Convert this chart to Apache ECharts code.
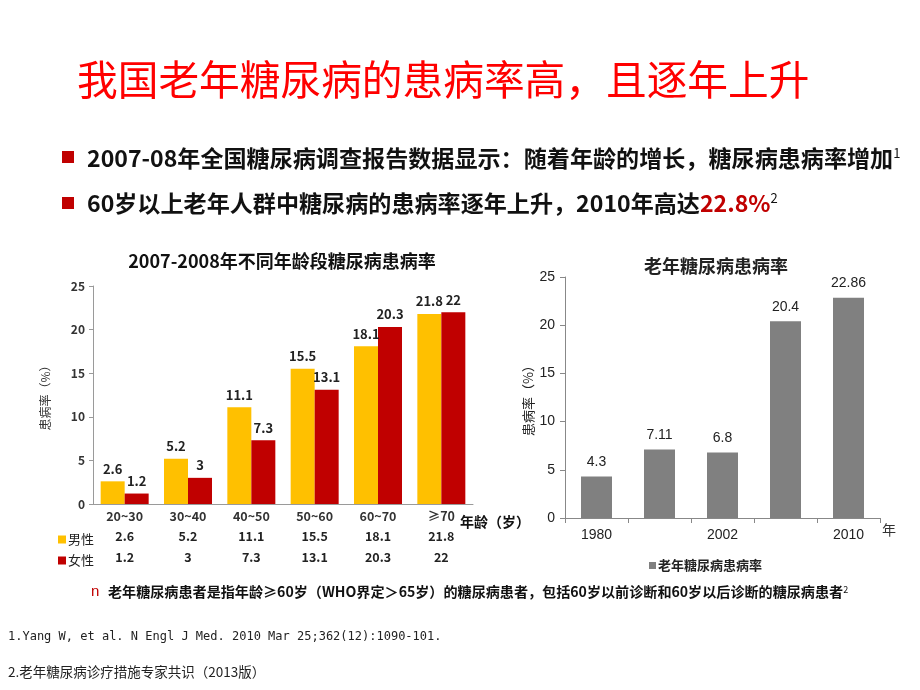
<!DOCTYPE html>
<html>
<head>
<meta charset="utf-8">
<script src="https://cdn.jsdelivr.net/npm/echarts@6/dist/echarts.min.js"></script>
<style>
html,body{margin:0;padding:0;background:#fff;}
#main{width:920px;height:690px;}
</style>
</head>
<body>
<div id="main"></div>
<script>
// ---- data ----
const ageGroups = ['20~30', '30~40', '40~50', '50~60', '60~70', '≥70'];
const maleRates = [2.6, 5.2, 11.1, 15.5, 18.1, 21.8];
const femaleRates = [1.2, 3, 7.3, 13.1, 20.3, 22];
const yearLabels = ['1980', '', '2002', '', '2010'];
const elderlyRates = [4.3, 7.11, 6.8, 20.4, 22.86];
const yMax = 25;
const yStep = 5;

const CJK = '"Noto Sans CJK SC", "Noto Sans", sans-serif';
const ARIAL = '"Liberation Sans", Arial, "Noto Sans CJK SC", sans-serif';

const chart = echarts.init(document.getElementById('main'), null, {renderer: 'canvas'});

const boldLbl = {fontSize: 12.5, fontWeight: 'bold', color: '#222', fontFamily: CJK};

const option = {
  backgroundColor: '#ffffff',
  animation: false,
  title: [
    {text: '2007-2008年不同年龄段糖尿病患病率', left: 277, top: 247, textAlign: 'center',
     textStyle: {fontSize: 18, fontWeight: 'bold', color: '#111', fontFamily: CJK}},
    {text: '老年糖尿病患病率', left: 711, top: 252, textAlign: 'center',
     textStyle: {fontSize: 18, fontWeight: 'bold', color: '#222', fontFamily: CJK}}
  ],
  legend: [
    {data: ['男性'], left: 53, top: 528, icon: 'rect', itemWidth: 8, itemHeight: 8, selectedMode: false,
     textStyle: {fontSize: 13, color: '#222', fontFamily: CJK, padding: [0, 0, 0, -3]}},
    {data: ['女性'], left: 53, top: 549, icon: 'rect', itemWidth: 8, itemHeight: 8, selectedMode: false,
     textStyle: {fontSize: 13, color: '#222', fontFamily: CJK, padding: [0, 0, 0, -3]}},
    {data: ['老年糖尿病患病率'], left: 644, top: 554, icon: 'rect', itemWidth: 7, itemHeight: 7, selectedMode: false,
     textStyle: {fontSize: 13, fontWeight: 'bold', color: '#222', fontFamily: CJK, padding: [0, 0, 0, -3]}}
  ],
  grid: [
    {left: 93, top: 286, width: 380, height: 218},
    {left: 565, top: 277, width: 315, height: 241}
  ],
  xAxis: [
    {gridIndex: 0, type: 'category', data: ageGroups,
     axisLine: {lineStyle: {color: '#9a9a9a', width: 1}}, axisTick: {show: false},
     axisLabel: Object.assign({margin: 6, interval: 0}, boldLbl, {color: '#333'})},
    {gridIndex: 0, type: 'category', data: maleRates.map(String), position: 'bottom', offset: 20,
     axisLine: {show: false}, axisTick: {show: false},
     axisLabel: Object.assign({margin: 6, interval: 0}, boldLbl)},
    {gridIndex: 0, type: 'category', data: femaleRates.map(String), position: 'bottom', offset: 41,
     axisLine: {show: false}, axisTick: {show: false},
     axisLabel: Object.assign({margin: 6, interval: 0}, boldLbl)},
    {gridIndex: 1, type: 'category', data: yearLabels,
     axisLine: {lineStyle: {color: '#888', width: 1}},
     axisTick: {show: true, interval: 0, length: 5, lineStyle: {color: '#888'}},
     axisLabel: {interval: 0, margin: 10, fontSize: 14, color: '#222', fontFamily: ARIAL}}
  ],
  yAxis: [
    {gridIndex: 0, type: 'value', min: 0, max: yMax, interval: yStep,
     splitLine: {show: false},
     axisLine: {show: true, lineStyle: {color: '#9a9a9a'}},
     axisTick: {show: true, length: 4, lineStyle: {color: '#9a9a9a'}},
     axisLabel: {margin: 8, fontSize: 12, fontWeight: 'bold', color: '#333', fontFamily: CJK},
     name: '患病率（%）', nameLocation: 'middle', nameGap: 42, nameRotate: 90,
     nameTextStyle: {fontSize: 12, color: '#333', fontFamily: CJK}},
    {gridIndex: 1, type: 'value', min: 0, max: yMax, interval: yStep,
     splitLine: {show: false},
     axisLine: {show: true, lineStyle: {color: '#888'}},
     axisTick: {show: true, length: 5, lineStyle: {color: '#888'}},
     axisLabel: {margin: 10, fontSize: 14, color: '#222', fontFamily: ARIAL},
     name: '患病率（%）', nameLocation: 'middle', nameGap: 30, nameRotate: 90,
     nameTextStyle: {fontSize: 13, color: '#222', fontFamily: CJK}}
  ],
  series: [
    {name: '男性', type: 'bar', xAxisIndex: 0, yAxisIndex: 0, data: maleRates,
     barWidth: 24, barGap: '0%', itemStyle: {color: '#FFC000'},
     label: {show: true, position: 'top', distance: 6, fontSize: 13, fontWeight: 'bold', color: '#222', fontFamily: CJK}},
    {name: '女性', type: 'bar', xAxisIndex: 0, yAxisIndex: 0, data: femaleRates,
     barWidth: 24, barGap: '0%', itemStyle: {color: '#C00000'},
     label: {show: true, position: 'top', distance: 6, fontSize: 13, fontWeight: 'bold', color: '#222', fontFamily: CJK}},
    {name: '老年糖尿病患病率', type: 'bar', xAxisIndex: 3, yAxisIndex: 1, data: elderlyRates,
     barWidth: 31, itemStyle: {color: '#808080'},
     label: {show: true, position: 'top', distance: 7, fontSize: 14, color: '#222', fontFamily: ARIAL}}
  ],
  graphic: [
    {type: 'text', x: 77, y: 80, style: {text: '我国老年糖尿病的患病率高，且逐年上升', fill: '#FF0000',
      fontSize: 40.7, fontFamily: CJK, verticalAlign: 'middle'}},
    {type: 'rect', shape: {x: 62, y: 151, width: 12, height: 12}, style: {fill: '#C00000'}},
    {type: 'rect', shape: {x: 62, y: 197, width: 12, height: 12}, style: {fill: '#C00000'}},
    {type: 'text', x: 87, y: 158, style: {
      text: '2007-08年全国糖尿病调查报告数据显示：随着年龄的增长，糖尿病患病率增加{s|1}',
      fill: '#111', fontSize: 23.1, fontWeight: 'bold', fontFamily: CJK, verticalAlign: 'middle',
      rich: {s: {fontSize: 13, fontWeight: 'normal', fill: '#111', verticalAlign: 'top', fontFamily: CJK}}}},
    {type: 'text', x: 87, y: 203, style: {
      text: '60岁以上老年人群中糖尿病的患病率逐年上升，2010年高达{r|22.8%}{s|2}',
      fill: '#111', fontSize: 23.1, fontWeight: 'bold', fontFamily: CJK, verticalAlign: 'middle',
      rich: {r: {fontSize: 23.1, fontWeight: 'bold', fill: '#C00000', fontFamily: CJK},
             s: {fontSize: 13, fontWeight: 'normal', fill: '#111', verticalAlign: 'top', fontFamily: CJK}}}},
    {type: 'text', x: 460, y: 522, style: {text: '年龄（岁）', fill: '#111', fontSize: 14, fontWeight: 'bold',
      fontFamily: CJK, verticalAlign: 'middle'}},
    {type: 'text', x: 882, y: 530, style: {text: '年', fill: '#333', fontSize: 14, fontFamily: CJK, verticalAlign: 'middle'}},
    {type: 'rect', shape: {x: 456, y: 339, width: 5, height: 5}, style: {fill: '#b23a3a', opacity: 0.6}},
    {type: 'text', x: 91, y: 592, style: {text: 'n', fill: '#C00000', fontSize: 15, fontFamily: ARIAL, verticalAlign: 'middle'}},
    {type: 'text', x: 108, y: 592, style: {
      text: '老年糖尿病患者是指年龄≥60岁（WHO界定＞65岁）的糖尿病患者，包括60岁以前诊断和60岁以后诊断的糖尿病患者{s|2}',
      fill: '#111', fontSize: 14.1, fontWeight: 'bold', fontFamily: CJK, verticalAlign: 'middle',
      rich: {s: {fontSize: 9, fontWeight: 'normal', fill: '#111', verticalAlign: 'top', fontFamily: CJK}}}},
    {type: 'text', x: 8, y: 637, style: {text: '1.Yang W, et al. N Engl J Med. 2010 Mar 25;362(12):1090-101.',
      fill: '#222', fontSize: 12, fontFamily: '"DejaVu Sans Mono", monospace', verticalAlign: 'middle'}},
    {type: 'text', x: 8, y: 672, style: {text: '2.老年糖尿病诊疗措施专家共识（2013版）',
      fill: '#222', fontSize: 13.5, fontFamily: CJK, verticalAlign: 'middle'}}
  ]
};

chart.setOption(option);
</script>
</body>
</html>
